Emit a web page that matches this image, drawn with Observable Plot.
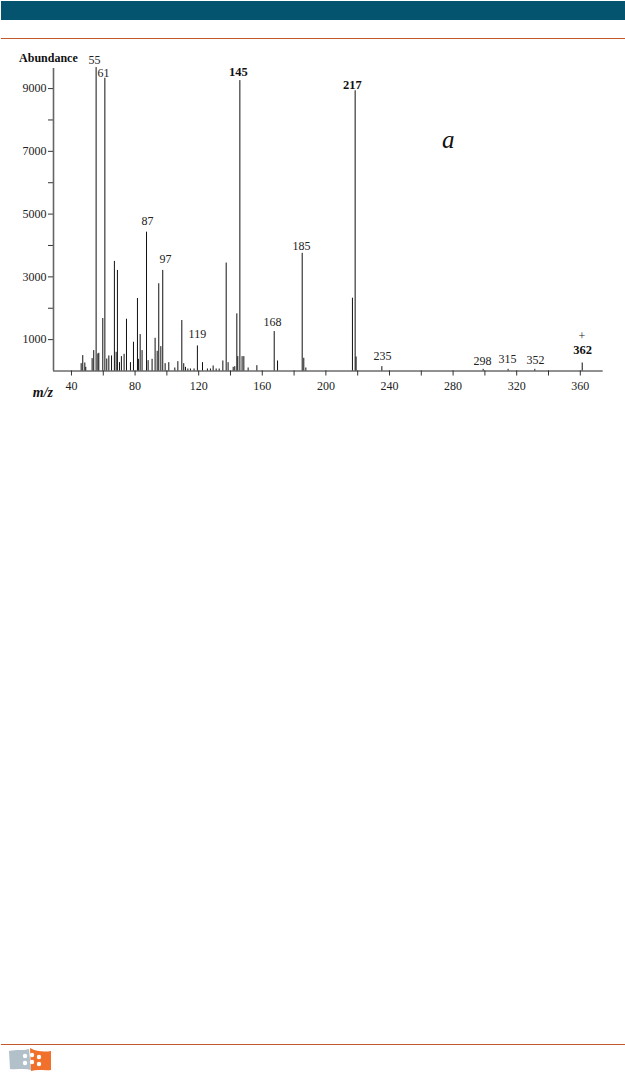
<!DOCTYPE html>
<html>
<head>
<meta charset="utf-8">
<script src="https://cdn.jsdelivr.net/npm/d3@7"></script>
<script src="https://cdn.jsdelivr.net/npm/@observablehq/plot@0.6"></script>
<style>
html,body{margin:0;padding:0;background:#fff}
#page{position:relative;width:625px;height:1072px;overflow:hidden}
#band{position:absolute;left:1px;top:1px;width:624px;height:19px;background:#05546f}
.rule{position:absolute;left:1px;width:624px;height:1px;background:#c2592c}
#chart{position:absolute;left:0;top:0}
#logo{position:absolute;left:9px;top:1048px}
</style>
</head>
<body>
<div id="page">
<div id="band"></div>
<div class="rule" style="top:38px"></div>
<div id="chart"></div>
<div class="rule" style="top:1044px"></div>
<svg id="logo" width="44" height="24" viewBox="0 0 44 24">
<path d="M0 3 C8 1 14 3 20 1 L22 22 C15 20 8 22 1 21 Z" fill="#b2c0ca"/>
<path d="M21 0 C28 4 36 4 42 3 L42 22 C36 23 29 21 22 23 Z" fill="#f0702c"/>
<g fill="#fff"><circle cx="16" cy="8" r="2.2"/><circle cx="23" cy="7" r="2.2"/><circle cx="30" cy="9" r="2.2"/><circle cx="16" cy="15" r="2.2"/><circle cx="23" cy="14" r="2.2"/><circle cx="30" cy="16" r="2.2"/></g>
</svg>
</div>
<script>
const peakMz = [46.1,47.1,48.4,49.0,53.0,54.0,55.5,56.6,57.2,59.7,61.0,62.2,63.5,65.2,67.0,68.1,68.9,70.2,71.4,73.1,74.6,77.1,79.0,81.5,82.1,83.2,84.4,87.2,88.2,90.7,92.6,93.9,94.9,96.2,97.4,98.9,101.2,105.0,106.9,109.4,110.6,111.7,113.2,114.8,117.1,119.2,122.4,125.5,127.4,129.1,131.0,132.9,135.2,137.3,138.5,141.7,142.7,144.0,144.6,145.9,147.3,148.4,151.1,156.6,167.5,169.6,185.1,186.1,187.4,216.7,218.4,219.0,235.2,298.9,314.6,331.4,361.2];
const peakAbundance = [234,490,255,117,394,650,9670,543,564,1672,9330,383,480,480,3493,596,3205,266,458,532,1650,266,916,2311,372,1160,650,4425,330,372,1043,628,2780,777,3205,234,266,96,298,1608,234,117,64,64,64,799,266,64,64,160,64,64,320,3440,266,117,138,1821,458,9255,458,458,96,170,1257,320,3750,405,96,2320,8930,447,138,53,53,53,255];
const peaks = peakMz.map((mz,i)=>({mz,abundance:peakAbundance[i]}));

const labelText = ["55","61","87","97","119","168","185","235","298","315","352","+"];
const labelMz = [54.5,60.1,87.8,99.1,119.2,166.4,184.7,235.6,298.5,314.2,331.8,361];
const labelAbundance = [9920,9505,4776,3562,1166,1550,3978,463,304,367,335,1100];
const plainLabels = labelText.map((text,i)=>({text,mz:labelMz[i],abundance:labelAbundance[i]}));

const boldText = ["145","217","362"];
const boldMz = [145,216.7,361.4];
const boldAbundance = [9537,9121,655];
const boldLabels = boldText.map((text,i)=>({text,mz:boldMz[i],abundance:boldAbundance[i]}));

const xTicks = [40,60,80,100,120,140,160,180,200,220,240,260,280,300,320,340,360];
const xTickLabels = [40,80,120,160,200,240,280,320,360];
const yTicks = [1000,2000,3000,4000,5000,6000,7000,8000,9000];
const yTickLabels = [1000,3000,5000,7000,9000];
const xDomain = [28.7,374.4];
const yDomain = [0,9640];

const serif = "'Liberation Serif','Times New Roman',serif";

const chart = Plot.plot({
  width:625, height:420,
  marginLeft:53, marginRight:22.3, marginTop:68, marginBottom:49.5,
  style:{fontFamily:serif,fontSize:"11.5px",color:"#222",background:"transparent",overflow:"visible"},
  x:{domain:xDomain,label:null},
  y:{domain:yDomain,label:null},
  marks:[
    Plot.axisX({ticks:xTicks,tickSize:5,tickPadding:5,label:null,stroke:"#333",
      tickFormat:d=>xTickLabels.includes(d)?String(d):"",fontSize:12}),
    Plot.axisY({ticks:yTicks,tickSize:5,tickPadding:2,label:null,stroke:"#333",
      tickFormat:d=>yTickLabels.includes(d)?String(d):"",fontSize:12}),
    Plot.ruleX([xDomain[0]],{y1:yDomain[0],y2:yDomain[1],stroke:"#666",strokeWidth:1.6}),
    Plot.ruleY([0],{x1:xDomain[0],x2:xDomain[1],stroke:"#222",strokeWidth:1}),
    Plot.ruleX(peaks,{x:"mz",y1:0,y2:"abundance",stroke:"#111",strokeWidth:1}),
    Plot.text(plainLabels,{x:"mz",y:"abundance",text:"text",fontSize:12,fill:"#222"}),
    Plot.text(boldLabels,{x:"mz",y:"abundance",text:"text",fontSize:12.5,fontWeight:"bold",fill:"#111"}),
    Plot.text(["Abundance"],{x:[25.5],y:[9984],fontSize:12,fontWeight:"bold",fill:"#111"}),
    Plot.text(["m/z"],{x:[22],y:[-700],fontSize:14,fontWeight:"bold",fontStyle:"italic",fill:"#111"}),
    Plot.text(["a"],{x:[277],y:[7364],fontSize:25,fontStyle:"italic",fill:"#111"})
  ]
});
document.getElementById("chart").appendChild(chart);
</script>
</body>
</html>
